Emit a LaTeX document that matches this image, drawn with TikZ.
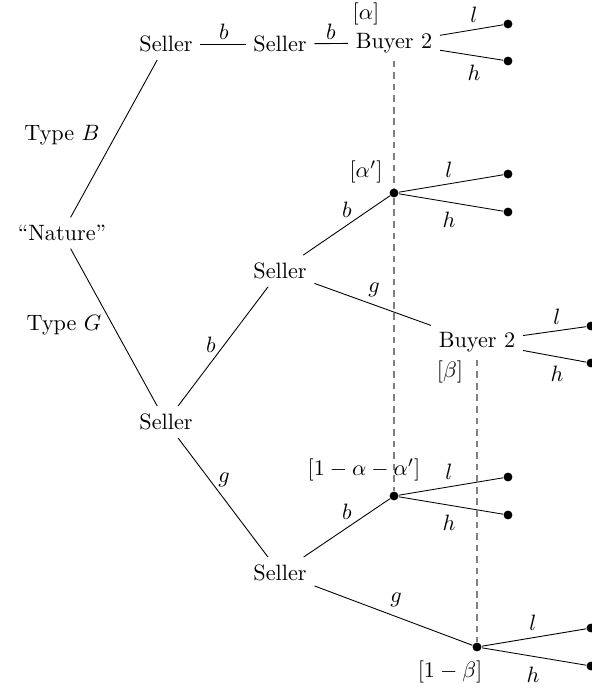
\documentclass[tikz,border=0pt]{standalone}
\begin{document}
\begin{tikzpicture}[x=0.45pt,y=-0.45pt,
  dot/.style={circle,fill,inner sep=0pt,minimum size=4pt},
  infoset/.style={gray,dash pattern=on 3pt off 2.2pt,line width=0.5pt}]

\useasboundingbox (0,0) rectangle (592,688);

% Nature
\node (N) at (62,233) {``Nature''};

%--------------------------------------------------
% Type B branch
%--------------------------------------------------
\node (SB) at (166,44) {Seller};
\node (SBb) at (280,44) {Seller};
\node (BT) at (394,43) {Buyer 2};
\node (lalpha) at (366,14) {$[\alpha]$};

\node[dot] (t1) at (508,24) {};
\node[dot] (t2) at (508,61) {};

\draw (N) -- (SB);
\draw (SB) -- (SBb);
\draw (SBb) -- (BT);
\draw (BT) -- (t1);
\draw (BT) -- (t2);

\node (typeB) at (62,135) {Type $B$};
\node (eb1) at (224,32) {$b$};
\node (eb2) at (331,32) {$b$};
\node (el1) at (474,15) {$l$};
\node (eh1) at (474,73) {$h$};

%--------------------------------------------------
% Type G branch
%--------------------------------------------------
\node (SG) at (166,422) {Seller};
\node (SGb) at (280,271) {Seller};
\node (SGg) at (280,573) {Seller};
\node (BM) at (477,342) {Buyer 2};

\node[dot] (A1) at (394,193) {};
\node[dot] (A2) at (394,496) {};
\node[dot] (B1) at (477,647) {};

\node[dot] (t3) at (508,174) {};
\node[dot] (t4) at (508,212) {};
\node[dot] (t5) at (591,326) {};
\node[dot] (t6) at (591,363) {};
\node[dot] (t7) at (508,477) {};
\node[dot] (t8) at (508,515) {};
\node[dot] (t9) at (591,628) {};
\node[dot] (t10) at (591,666) {};

\draw (N) -- (SG);
\draw (SG) -- (SGb);
\draw (SG) -- (SGg);
\draw (SGb) -- (A1);
\draw (SGb) -- (BM);
\draw (SGg) -- (A2);
\draw (SGg) -- (B1);
\draw (A1) -- (t3);
\draw (A1) -- (t4);
\draw (BM) -- (t5);
\draw (BM) -- (t6);
\draw (A2) -- (t7);
\draw (A2) -- (t8);
\draw (B1) -- (t9);
\draw (B1) -- (t10);

% Information sets
\draw[infoset] (BT) -- (A1) -- (A2);
\draw[infoset] (BM) -- (B1);

% Beliefs
\node (lalpha2) at (366,172) {$[\alpha']$};
\node (lalpha3) at (364,470) {$[1-\alpha-\alpha']$};
\node (lbeta) at (450,372) {$[\beta]$};
\node (lbeta2) at (450,672) {$[1-\beta]$};

% Action labels
\node (typeG) at (64,325) {Type $G$};
\node (eb3) at (211,345) {$b$};
\node (eg1) at (224,480) {$g$};
\node (eb4) at (347,210) {$b$};
\node (eg2) at (374,290) {$g$};
\node (eb5) at (347,512) {$b$};
\node (eg3) at (396,600) {$g$};
\node (el2) at (449,170) {$l$};
\node (eh2) at (449,220) {$h$};
\node (el3) at (557,317) {$l$};
\node (eh3) at (557,374) {$h$};
\node (el4) at (449,472) {$l$};
\node (eh4) at (449,523) {$h$};
\node (el5) at (533,623) {$l$};
\node (eh5) at (533,675) {$h$};

\end{tikzpicture}
\end{document}
